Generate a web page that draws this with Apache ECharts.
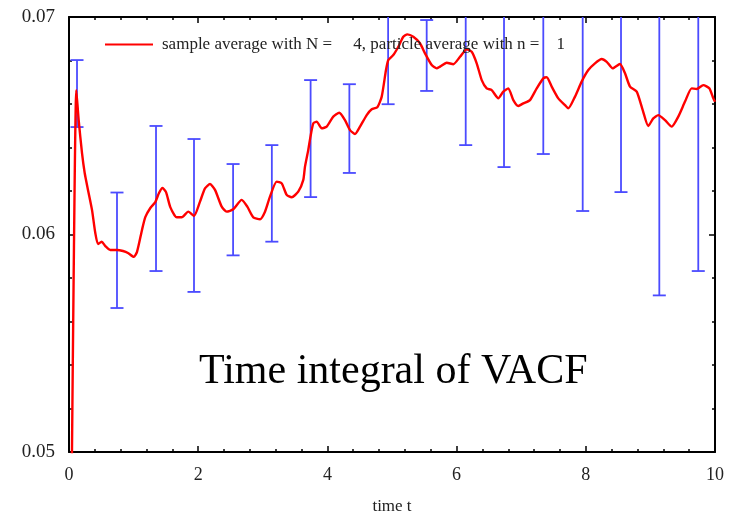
<!DOCTYPE html>
<html>
<head>
<meta charset="utf-8">
<script src="https://cdn.jsdelivr.net/npm/echarts@6/dist/echarts.min.js"></script>
<style>html,body{margin:0;padding:0;background:#fff}#c{width:736px;height:512px}</style>
</head>
<body>
<div id="c"></div>
<script>
// red curve: time t and sample-averaged time integral of VACF
const curveT = [0.030,0.046,0.073,0.113,0.150,0.201,0.243,0.294,0.356,0.407,0.449,0.506,0.562,0.639,0.743,0.836,0.913,1.002,1.053,1.130,1.181,1.259,1.336,1.393,1.447,1.502,1.568,1.667,1.745,1.847,1.935,2.028,2.105,2.183,2.260,2.364,2.441,2.543,2.673,2.760,2.853,2.957,3.034,3.111,3.215,3.293,3.370,3.447,3.549,3.627,3.653,3.704,3.738,3.782,3.834,3.912,3.989,4.091,4.184,4.272,4.350,4.427,4.505,4.608,4.686,4.773,4.841,4.907,4.943,5.020,5.098,5.175,5.237,5.330,5.433,5.511,5.615,5.692,5.743,5.847,5.949,6.053,6.156,6.234,6.311,6.389,6.466,6.543,6.646,6.723,6.800,6.878,6.955,7.033,7.136,7.240,7.342,7.395,7.472,7.574,7.678,7.729,7.833,7.936,8.039,8.142,8.246,8.324,8.416,8.529,8.607,8.684,8.788,8.881,8.967,9.045,9.122,9.226,9.330,9.432,9.536,9.639,9.717,9.819,9.912,9.974,10.0];
const curveV = [0.04500,0.05000,0.05837,0.06664,0.06526,0.06375,0.06283,0.06205,0.06113,0.06007,0.05956,0.05967,0.05947,0.05929,0.05929,0.05924,0.05915,0.05897,0.05920,0.06021,0.06080,0.06122,0.06149,0.06191,0.06214,0.06195,0.06126,0.06079,0.06079,0.06105,0.06085,0.06151,0.06212,0.06232,0.06205,0.06128,0.06105,0.06116,0.06159,0.06128,0.06079,0.06070,0.06105,0.06174,0.06243,0.06235,0.06182,0.06171,0.06197,0.06251,0.06312,0.06389,0.06450,0.06511,0.06519,0.06488,0.06496,0.06542,0.06560,0.06526,0.06480,0.06462,0.06496,0.06549,0.06576,0.06585,0.06634,0.06756,0.06802,0.06825,0.06863,0.06909,0.06920,0.06909,0.06879,0.06833,0.06779,0.06764,0.06772,0.06790,0.06783,0.06817,0.06851,0.06840,0.06787,0.06710,0.06672,0.06664,0.06626,0.06657,0.06672,0.06618,0.06591,0.06603,0.06618,0.06672,0.06718,0.06723,0.06680,0.06626,0.06595,0.06580,0.06634,0.06703,0.06756,0.06787,0.06807,0.06794,0.06764,0.06784,0.06741,0.06680,0.06657,0.06572,0.06499,0.06534,0.06549,0.06526,0.06496,0.06542,0.06611,0.06672,0.06669,0.06687,0.06672,0.06626,0.06610];

// blue error bars: time, lower end, upper end
const barT    = [0.124,0.743,1.347,1.935,2.540,3.140,3.740,4.340,4.940,5.537,6.141,6.734,7.342,7.952,8.545,9.138,9.741];
const barLow  = [0.06494,0.05662,0.05832,0.05736,0.05904,0.05967,0.06172,0.06283,0.06599,0.06660,0.06411,0.06310,0.06370,0.06108,0.06195,0.05720,0.05832];
const barHigh = [0.06802,0.06193,0.06499,0.06439,0.06324,0.06411,0.06710,0.06691,0.07005,0.06986,0.07289,0.07010,0.07066,0.07312,0.07355,0.07378,0.07506];

const seriesName = 'sample average with N =     4, particle average with n =    1';
const xTicks = {min: 0, max: 10, interval: 2};
const yTicks = {min: 0.05, max: 0.07, interval: 0.01};
const xTitle = 'time t';
const chartNote = 'Time integral of VACF';

const serif = "'Liberation Serif','Times New Roman',serif";
const curveData = curveT.map((t, i) => [t, curveV[i]]);
const barData = barT.map((t, i) => [t, barLow[i], barHigh[i]]);

const axisCommon = {
  axisLine: {show: true, onZero: false, lineStyle: {color: '#000', width: 2}},
  axisTick: {show: true, inside: true, length: 6, lineStyle: {color: '#000', width: 1.5}},
  minorTick: {show: true, splitNumber: 5, length: 3, lineStyle: {color: '#000', width: 1.5}},
  splitLine: {show: false}
};

const chart = echarts.init(document.getElementById('c'), null, {renderer: 'canvas'});
chart.setOption({
  animation: false,
  backgroundColor: '#fff',
  grid: {left: 69, right: 21, top: 17, bottom: 60, containLabel: false, outerBoundsMode: 'none'},
  legend: {
    data: [{name: seriesName, icon: 'rect'}],
    left: 100, top: 31,
    itemWidth: 48, itemHeight: 2,
    textStyle: {fontFamily: serif, fontSize: 17, color: '#222', padding: [0, 0, 0, 4]}
  },
  graphic: [{
    type: 'text', left: 199, top: 351, z: 100,
    style: {text: chartNote, font: '42px ' + serif, fill: '#000'}
  }],
  xAxis: [
    Object.assign({type: 'value', position: 'bottom'}, xTicks, axisCommon, {
      name: xTitle, nameLocation: 'middle', nameGap: 46,
      nameTextStyle: {fontFamily: serif, fontSize: 17, color: '#222'},
      axisLabel: {margin: 14, fontFamily: serif, fontSize: 18, color: '#222'}
    }),
    Object.assign({type: 'value', position: 'top'}, xTicks, axisCommon, {axisLabel: {show: false}})
  ],
  yAxis: [
    Object.assign({type: 'value', position: 'left'}, yTicks, axisCommon, {
      axisLabel: {margin: 14, fontFamily: serif, fontSize: 19, color: '#222', formatter: v => v.toFixed(2)}
    }),
    Object.assign({type: 'value', position: 'right'}, yTicks, axisCommon, {axisLabel: {show: false}})
  ],
  series: [
    {
      type: 'custom',
      name: 'error bars',
      clip: true,
      encode: {x: 0, y: [1, 2]},
      data: barData,
      z: 2,
      renderItem: function (params, api) {
        const t = api.value(0);
        const lo = api.coord([t, api.value(1)]);
        const hi = api.coord([t, api.value(2)]);
        const hw = 6.5;
        const st = {stroke: '#4b4bff', lineWidth: 1.8};
        return {
          type: 'group',
          children: [
            {type: 'line', shape: {x1: hi[0], y1: hi[1], x2: lo[0], y2: lo[1]}, style: st},
            {type: 'line', shape: {x1: hi[0] - hw, y1: hi[1], x2: hi[0] + hw, y2: hi[1]}, style: st},
            {type: 'line', shape: {x1: lo[0] - hw, y1: lo[1], x2: lo[0] + hw, y2: lo[1]}, style: st}
          ]
        };
      }
    },
    {
      type: 'line',
      name: seriesName,
      data: curveData,
      showSymbol: false,
      symbol: 'none',
      smooth: 0.2,
      clip: true,
      z: 3,
      color: '#ff0000',
      lineStyle: {color: '#ff0000', width: 2.4}
    }
  ]
});
</script>
</body>
</html>
